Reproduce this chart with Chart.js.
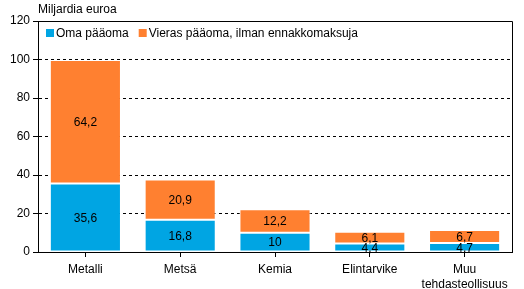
<!DOCTYPE html>
<html>
<head>
<meta charset="utf-8">
<script src="https://cdn.jsdelivr.net/npm/chart.js@4"></script>
<style>
  body { margin: 0; background: #fff; }
  #wrap { width: 524px; height: 289px; }
</style>
</head>
<body>
<div id="wrap"><canvas id="chart"></canvas></div>
<script>
const categories = ['Metalli', 'Metsä', 'Kemia', 'Elintarvike', ['Muu', 'tehdasteollisuus']];
const omaPaaoma = [35.6, 16.8, 10, 4.4, 4.7];
const vierasPaaoma = [64.2, 20.9, 12.2, 6.1, 6.7];
const seriesNames = ['Oma pääoma', 'Vieras pääoma, ilman ennakkomaksuja'];
const yTicks = [0, 20, 40, 60, 80, 100, 120];

const FONT = 'Liberation Sans, Arial, sans-serif';

// arvot palkkien sisään
const labelPlugin = {
    id: 'barLabels',
    afterDatasetsDraw(chart) {
        const ctx = chart.ctx;
        ctx.save();
        ctx.font = '12px ' + FONT;
        ctx.fillStyle = '#000';
        ctx.textAlign = 'center';
        ctx.textBaseline = 'middle';
        chart.data.datasets.forEach(function(ds, i) {
            chart.getDatasetMeta(i).data.forEach(function(bar, j) {
                const p = bar.getProps(['x', 'y', 'base'], true);
                ctx.fillText(String(ds.data[j]).replace('.', ','), p.x, (p.y + p.base) / 2 + 1);
            });
        });
        ctx.restore();
    }
};

// otsikko, kehys ja selite
const framePlugin = {
    id: 'frame',
    afterDraw(chart) {
        const ctx = chart.ctx;
        const a = chart.chartArea;
        ctx.save();
        ctx.strokeStyle = '#000';
        ctx.lineWidth = 1;
        ctx.beginPath();
        ctx.moveTo(a.left, a.top + 0.5);
        ctx.lineTo(a.right + 0.5, a.top + 0.5);
        ctx.lineTo(a.right + 0.5, a.bottom);
        ctx.stroke();

        ctx.font = '12px ' + FONT;
        ctx.fillStyle = '#000';
        ctx.textBaseline = 'middle';
        ctx.textAlign = 'left';
        ctx.fillText('Miljardia euroa', a.left, 10);

        let x = a.left + 8;
        const y = a.top + 12;
        chart.data.datasets.forEach(function(ds) {
            ctx.fillStyle = ds.backgroundColor;
            ctx.fillRect(x, y - 4, 8, 8);
            ctx.fillStyle = '#000';
            ctx.fillText(ds.label, x + 10, y + 1);
            x += 10 + ctx.measureText(ds.label).width + 10;
        });
        ctx.restore();
    }
};

new Chart(document.getElementById('chart').getContext('2d'), {
    type: 'bar',
    data: {
        labels: categories,
        datasets: [{
            label: seriesNames[0],
            data: omaPaaoma,
            backgroundColor: 'rgb(0, 165, 227)',
            borderColor: '#fff',
            borderWidth: 1,
            borderSkipped: false,
            barPercentage: 0.75,
            categoryPercentage: 1
        }, {
            label: seriesNames[1],
            data: vierasPaaoma,
            backgroundColor: 'rgb(255, 128, 48)',
            borderColor: '#fff',
            borderWidth: 1,
            borderSkipped: false,
            barPercentage: 0.75,
            categoryPercentage: 1
        }]
    },
    options: {
        responsive: true,
        maintainAspectRatio: false,
        animation: false,
        layout: { padding: { left: 0, right: 12, top: 21, bottom: 0 } },
        plugins: {
            legend: { display: false },
            tooltip: { enabled: false }
        },
        scales: {
            x: {
                stacked: true,
                afterFit(scale) { scale.height = 37; },
                grid: {
                    offset: false,
                    drawOnChartArea: false,
                    color: '#000',
                    tickLength: 5
                },
                border: { color: '#000' },
                ticks: {
                    color: '#000',
                    font: { family: FONT, size: 12, lineHeight: 1.25 },
                    maxRotation: 0,
                    padding: 5
                }
            },
            y: {
                stacked: true,
                min: 0,
                max: 120,
                afterFit(scale) { scale.width = 38; },
                afterBuildTicks(scale) { scale.ticks = yTicks.map(function(v) { return { value: v }; }); },
                grid: {
                    color: '#000',
                    tickLength: 5,
                    drawTicks: true
                },
                border: { color: '#000', dash: [3, 3] },
                ticks: {
                    color: '#000',
                    font: { family: FONT, size: 12 },
                    padding: 3
                }
            }
        }
    },
    plugins: [labelPlugin, framePlugin]
});
</script>
</body>
</html>
